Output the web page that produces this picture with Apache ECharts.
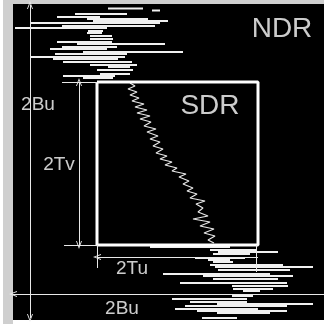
<!DOCTYPE html>
<html><head><meta charset="utf-8">
<script src="https://cdn.jsdelivr.net/npm/echarts/dist/echarts.min.js"></script>
<style>html,body{margin:0;padding:0;background:#fff}#c{width:324px;height:324px}</style>
</head><body><div id="c"></div>
<script>
// Half-widths of the SDR window (u, v units)
const Tu = 80.5, Tv = 81.5;
// Upper NDR excursions: level v, left u, right u
const topV = [155, 153, 149.5, 146.5, 144.5, 142.5, 140.5, 137.5, 135.5, 132.5, 130.5, 127.5, 124.5, 121.5, 119.5, 116.5, 114.5, 111.5, 109.5, 106.5, 104.5, 101.5, 98.5, 96.5, 93.5, 89.5, 87.5, 85.5];
const topL = [-69.5, -25.5, -102.5, -120.5, -90.5, -84.5, -147.5, -115.5, -162.5, -89.5, -90.5, -87.5, -87.5, -120.5, -100.5, -115.5, -127.5, -94.5, -122.5, -147.5, -124.5, -114.5, -87.5, -69.5, -80.5, -77.5, -114.5, -94.5];
const topR = [-34.5, -17.5, -50.5, -77.5, -29.5, -9.5, -17.5, -22.5, -70.5, -74.5, -75.5, -65.5, -64.5, -65.5, -12.5, -60.5, -70.5, 5.5, -50.5, -52.5, -59.5, -45.5, -40.5, -47.5, -44.5, -47.5, -62.5, -64.5];
// SDR trace
const sdrU = [-47.5, -42.5, -49.5, -40.5, -47.5, -38.5, -45.5, -33.5, -42.5, -30.5, -40.5, -27.5, -37.5, -26.5, -33.5, -21.5, -30.5, -19.5, -27.5, -17.5, -24.5, -14.5, -21.5, -10.5, -17.5, -5.5, -12.5, -0.5, -5.5, 8.5, 1.5, 11.5, 5.5, 15.5, 9.5, 19.5, 12.5, 27.5, 18.5, 25.5, 20.5, 30.5, 15.5, 32.5, 22.5, 36.5, 26.5, 37.5, 30.5, 36.5];
const sdrV = [80.5, 77.5, 74.5, 71.5, 68.5, 65.5, 62.5, 59.5, 56.5, 53.5, 50.5, 47.5, 44.5, 41.5, 37.5, 34.5, 31.5, 27.5, 24.5, 21.5, 17.5, 14.5, 10.5, 7.5, 4.5, 1.5, -1.5, -4.5, -7.5, -10.5, -13.5, -17.5, -20.5, -24.5, -27.5, -30.5, -34.5, -37.5, -40.5, -44.5, -48.5, -52.5, -55.5, -58.5, -62.5, -65.5, -69.5, -72.5, -76.5, -79.5];
// Lower NDR excursions
const botV = [-83.5, -86.5, -88.5, -90.5, -94.5, -96.5, -98.5, -101.5, -103.5, -106.5, -110.5, -112.5, -115.5, -119.5, -122.5, -125.5, -127.5, -132.5, -135.5, -138.5, -140.5, -142.5, -145.5, -147.5, -149.5, -154.5];
const botL = [-27.5, 32.5, 40.5, 35.5, 17.5, 30.5, 35.5, 32.5, 37.5, 40.5, -14.5, 25.5, 35.5, 2.5, 54.5, 55.5, 65.5, 54.5, -5.5, 12.5, 39.5, 7.5, -2.5, 19.5, 39.5, 24.5];
const botR = [52.5, 79.5, 100.5, 72.5, 67.5, 52.5, 55.5, 105.5, 135.5, 112.5, 92.5, 115.5, 100.5, 109.5, 110.5, 95.5, 82.5, 75.5, 69.5, 69.5, 135.5, 109.5, 80.5, 109.5, 92.5, 59.5];
// Dimension lines: u1, v1, u2, v2, arrow at start, arrow at end
const dimU1 = [-147.5, -115.5, -113.5, -98.5, -80.5, 78.5, -80.5, -164.5, -163.5];
const dimV1 = [158.5, 81.5, -81.5, 81.5, -81.5, -81.5, -93.5, -130.5, -121.5];
const dimU2 = [-147.5, -80.5, -80.5, -98.5, -80.5, 78.5, 80.5, 146.5, -163.5];
const dimV2 = [-154.5, 81.5, -81.5, -81.5, -104.5, -108.5, -93.5, -130.5, -158.5];
const dimA1 = [1, 0, 0, 1, 0, 0, 1, 1, 0];
const dimA2 = [1, 0, 0, 1, 0, 0, 0, 0, 0];
// Labels
const labText = ['2Bu', '2Tv', '2Tu', '2Bu', 'NDR', 'SDR'];
const labU = [-139.5, -118.5, -45.5, -55.5, 104.5, 32.5];
const labV = [58.5, -1.5, -105.5, -145.5, 134.5, 57.5];
const labSize = [19, 19, 19, 19, 28, 28];

function streaks(V, L, R) {
  const out = [];
  V.forEach((v, i) => { out.push([L[i], v], [R[i], v], [null, null]); });
  return out;
}
const topPts = streaks(topV, topL, topR);
const botPts = streaks(botV, botL, botR);
const sdrPts = sdrU.map((u, i) => [u, sdrV[i]]);
const boxPts = [[-Tu, Tv], [Tu, Tv], [Tu, -Tv], [-Tu, -Tv], [-Tu, Tv]];
const arrowSym = 'path://M0,10L5,0L10,10L8.5,10L5,3L1.5,10Z';
const dimData = dimU1.map((u, i) => [
  { coord: [u, dimV1[i]], symbol: dimA1[i] ? arrowSym : 'none' },
  { coord: [dimU2[i], dimV2[i]], symbol: dimA2[i] ? arrowSym : 'none' }
]);
const labData = labText.map((t, i) => ({
  name: t, value: [labU[i], labV[i]],
  label: { fontSize: labSize[i] }
}));

const chart = echarts.init(document.getElementById('c'));
chart.setOption({
  animation: false,
  backgroundColor: '#cfcfcf',
  grid: { left: 13, right: 0, top: 4, bottom: 4, show: true, backgroundColor: '#000', borderWidth: 0 },
  xAxis: { type: 'value', min: -164.5, max: 146.5, show: false },
  yAxis: { type: 'value', min: -156.5, max: 159.5, show: false },
  graphic: [
    { type: 'rect', left: 13, top: 320, shape: { width: 311, height: 4 }, style: { fill: '#fff' } },
    { type: 'rect', left: 0, top: 0, shape: { width: 3, height: 324 }, style: { fill: '#fff' } }
  ],
  series: [
    { type: 'line', data: topPts, showSymbol: false, silent: true, connectNulls: false,
      lineStyle: { color: '#f0f0f0', width: 2 } },
    { type: 'line', data: sdrPts, showSymbol: false, silent: true,
      lineStyle: { color: '#e6e6e6', width: 1.2 } },
    { type: 'line', data: botPts, showSymbol: false, silent: true, connectNulls: false,
      lineStyle: { color: '#f0f0f0', width: 2 } },
    { type: 'line', data: boxPts, showSymbol: false, silent: true,
      lineStyle: { color: '#fff', width: 3 },
      markLine: { silent: true, animation: false, symbolSize: [6, 8],
        label: { show: false },
        lineStyle: { color: '#e8e8e8', width: 1, type: 'solid' },
        emphasis: { disabled: true },
        data: dimData } },
    { type: 'scatter', data: labData, symbolSize: 0, silent: true,
      label: { show: true, position: 'inside', formatter: '{b}', color: '#fff',
        fontFamily: 'Liberation Sans' } }
  ]
});
</script></body></html>
